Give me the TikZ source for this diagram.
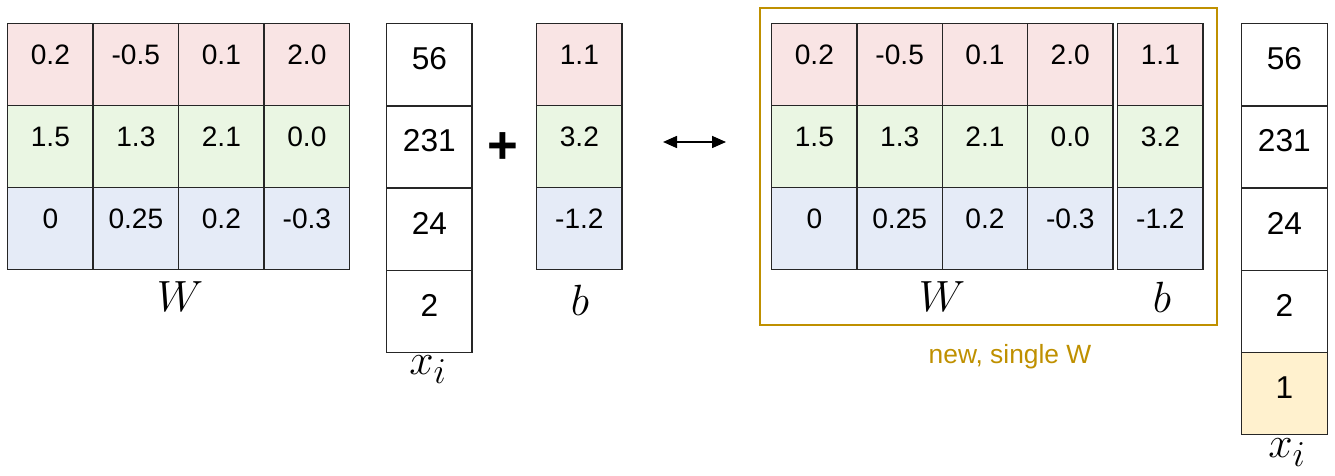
\documentclass[tikz,border=0pt]{standalone}
\usepackage{fontspec}
\setmainfont{Liberation Sans}
\usepackage{xcolor}
\usepackage{tikz}
\usetikzlibrary{calc,positioning,arrows.meta}
\definecolor{rowr}{HTML}{F9E4E4}
\definecolor{rowg}{HTML}{EAF6E3}
\definecolor{rowb}{HTML}{E5EBF7}
\definecolor{rowy}{HTML}{FFF1CE}
\definecolor{gold}{HTML}{BF9000}
\tikzset{
  cell/.style={draw=black!85, line width=0.7pt, anchor=north west, minimum width=1.71cm, minimum height=1.64cm, inner sep=0pt, text height=0.4cm, text depth=0.4cm, font=\fontsize{16}{19}\selectfont},
  vcell/.style={cell, fill=white, text height=0.5cm, text depth=0.3cm, font=\fontsize{18}{22}\selectfont},
  lbl/.style={inner sep=0pt, font=\Huge},
  frame/.style={draw=gold, line width=1.5pt}
}

\begin{document}
\begin{tikzpicture}[x=0.02cm,y=-0.02cm]
    \useasboundingbox (0,0) rectangle (1335,476);
    % left W
    \foreach \v [count=\j from 0] in {0.2,-0.5,0.1,2.0}
      \node (A0\j) [cell,fill=rowr] at (7+85.5*\j,23) {\v};
    \foreach \v [count=\j from 0] in {1.5,1.3,2.1,0.0}
      \node (A1\j) [cell,fill=rowg] at (7+85.5*\j,105) {\v};
    \foreach \v [count=\j from 0] in {0,0.25,0.2,-0.3}
      \node (A2\j) [cell,fill=rowb] at (7+85.5*\j,187) {\v};
    \node (WL) [lbl] at (180,297) {$W$};
    % left x
    \foreach \v [count=\j from 0] in {56,231,24,2}
      \node (X\j) [vcell] at (386,23+82.3*\j) {\v};
    \node (XL) [lbl] at (428,370) {$x_i$};
    \node (P) [font=\fontsize{30}{34}\selectfont\bfseries] at (503,148) {+};
    % left b
    \node (B0) [cell,fill=rowr] at (536,23) {1.1};
    \node (B1) [cell,fill=rowg] at (536,105) {3.2};
    \node (B2) [cell,fill=rowb] at (536,187) {-1.2};
    \node (BL) [lbl] at (580,300) {$b$};
    \coordinate (L) at (663,142);
    \coordinate (R) at (726,142);
    \draw [line width=0.9pt, {Triangle[length=0.28cm,width=0.24cm]}-{Triangle[length=0.28cm,width=0.24cm]}] (L) -- (R);
    % merged W and b
    \draw [frame] (760,8) rectangle (1217,325);
    \foreach \v [count=\j from 0] in {0.2,-0.5,0.1,2.0}
      \node (C0\j) [cell,fill=rowr] at (771+85.3*\j,23) {\v};
    \foreach \v [count=\j from 0] in {1.5,1.3,2.1,0.0}
      \node (C1\j) [cell,fill=rowg] at (771+85.3*\j,105) {\v};
    \foreach \v [count=\j from 0] in {0,0.25,0.2,-0.3}
      \node (C2\j) [cell,fill=rowb] at (771+85.3*\j,187) {\v};
    \node (D0) [cell,fill=rowr] at (1117,23) {1.1};
    \node (D1) [cell,fill=rowg] at (1117,105) {3.2};
    \node (D2) [cell,fill=rowb] at (1117,187) {-1.2};
    \node (WR) [lbl] at (942,297) {$W$};
    \node (BR) [lbl] at (1162,297) {$b$};
    \node (N) [text=gold, font=\fontsize{15}{18}\selectfont] at (1010,357) {new, single W};
    % right x with 1
    \foreach \v [count=\j from 0] in {56,231,24,2}
      \node (Y\j) [vcell] at (1241,23+82.3*\j) {\v};
    \node (Y4) [vcell,fill=rowy] at (1241,352) {1};
    \node (YL) [lbl] at (1287,453) {$x_i$};
\end{tikzpicture}
\end{document}
